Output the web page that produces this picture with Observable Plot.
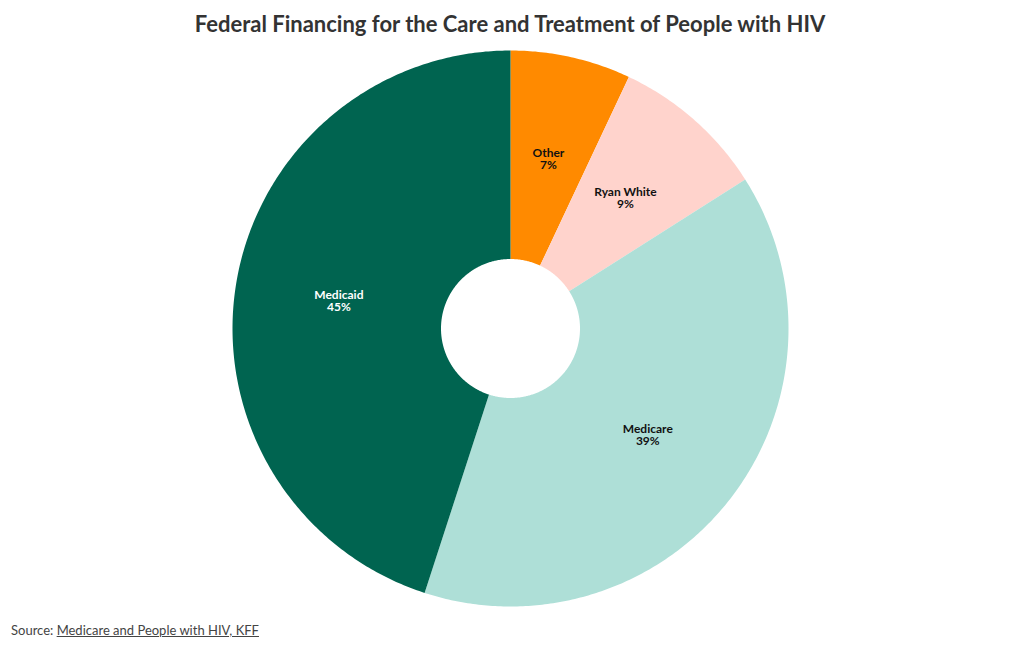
<!DOCTYPE html>
<html>
<head>
<meta charset="utf-8">
<script src="https://cdn.jsdelivr.net/npm/d3@7"></script>
<script src="https://cdn.jsdelivr.net/npm/@observablehq/plot@0.6"></script>
<style>
  html, body { margin: 0; padding: 0; background: #fff; }
  body { width: 1020px; height: 650px; overflow: hidden; font-family: Lato, "Noto Sans", sans-serif; }
  #title { height: 48px; line-height: 48px; text-align: center; font-size: 22px; font-weight: 700; color: #333; }
  #chart svg { display: block; }
  #caption { position: absolute; left: 11px; top: 622px; font-size: 13px; color: #444; }
  #caption a { color: #444; text-decoration: underline; }
</style>
</head>
<body>
<div id="title">Federal Financing for the Care and Treatment of People with HIV</div>
<div id="chart"></div>
<div id="caption">Source: <a href="#">Medicare and People with HIV, KFF</a></div>
<script>
const categories = ["Other", "Ryan White", "Medicare", "Medicaid"];
const shares = [7, 9, 39, 45];
const colors = ["#ff8a00", "#ffd3cc", "#aedfd7", "#006450"];
const labelColors = ["#111", "#111", "#111", "#fff"];

const W = 1020, H = 560;
const outerR = 278, innerR = 69.5;

const data = categories.map((c, i) => ({category: c, value: shares[i]}));
const arcs = d3.pie().value(d => d.value).sort(null)(data);

// polygon outlines for each slice (annular sector) in pie units
const pts = [];
arcs.forEach(a => {
  const n = Math.max(4, Math.ceil((a.endAngle - a.startAngle) / 0.01));
  for (let k = 0; k <= n; k++) {
    const t = a.startAngle + (a.endAngle - a.startAngle) * k / n;
    pts.push({category: a.data.category, x: outerR * Math.sin(t), y: outerR * Math.cos(t)});
  }
  for (let k = n; k >= 0; k--) {
    const t = a.startAngle + (a.endAngle - a.startAngle) * k / n;
    pts.push({category: a.data.category, x: innerR * Math.sin(t), y: innerR * Math.cos(t)});
  }
});

const labelR = (outerR + innerR) / 2;
const labels = arcs.map(a => {
  const m = (a.startAngle + a.endAngle) / 2;
  return {category: a.data.category, value: a.data.value, x: labelR * Math.sin(m), y: labelR * Math.cos(m)};
});

const chart = Plot.plot({
  width: W,
  height: H,
  margin: 0,
  x: {domain: [-W / 2, W / 2], axis: null},
  y: {domain: [-H / 2, H / 2], axis: null},
  color: {domain: categories, range: colors},
  marks: [
    Plot.line(pts, {x: "x", y: "y", z: "category", fill: "category", stroke: null, curve: "linear-closed"}),
    Plot.text(labels, {
      x: "x", y: "y",
      text: d => `${d.category}\n${d.value}%`,
      fill: d => labelColors[categories.indexOf(d.category)],
      fontSize: 12, fontWeight: 700, lineHeight: 1.0,
      fontFamily: "Lato, 'Noto Sans', sans-serif"
    })
  ]
});
chart.style.fontFamily = "Lato, 'Noto Sans', sans-serif";
document.getElementById("chart").appendChild(chart);
</script>
</body>
</html>
